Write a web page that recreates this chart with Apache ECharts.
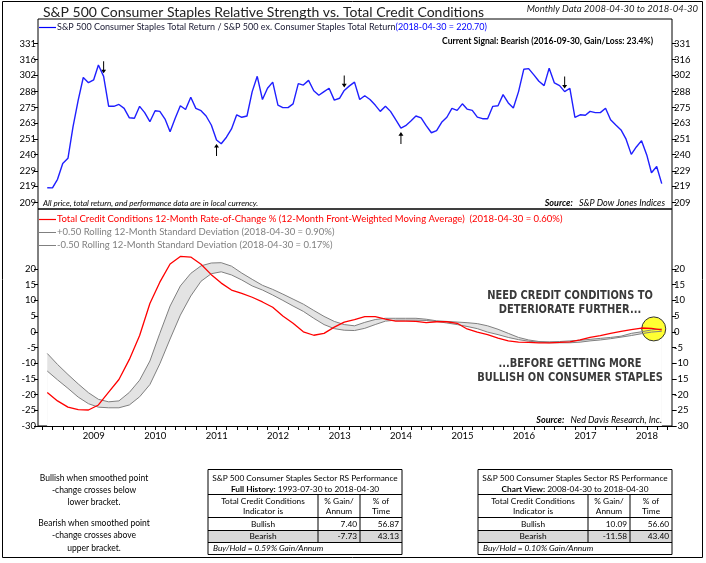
<!DOCTYPE html>
<html><head><meta charset="utf-8">
<script src="https://cdn.jsdelivr.net/npm/echarts@6/dist/echarts.min.js"></script>
<style>html,body{margin:0;padding:0;background:#fff}#c{width:706px;height:563px}</style>
</head><body><div id="c"></div>
<script>
// ---------------- DATA ----------------
// Relative strength ratio, monthly, 2008-04-30 .. 2018-04-30
const rsValues = [218.1,218,223.5,234,237.5,260,281,300,295.5,298,
311,301,276,276,277.5,274.4,267,266.6,276,271,
264,272.5,272,266,256.5,266.8,276.5,273.5,283.3,274.4,
272.5,268.4,261.5,250.4,247.7,252.4,258.5,269.3,267.4,268.4,
288,301,281.5,290.8,296,277,275,275,278,294.7,
293.5,297.5,288.7,285,288,290.8,281,282.5,289,292.8,
296,281.5,284.6,281.5,277,272,276,272,265.5,259.2,
261,264.6,268.4,267,261,255.7,257.3,263.5,267.4,274.4,
272.8,278,273.8,272.8,267.5,266.3,266.3,276,276.5,285.5,
278.7,274.6,288,307.2,307.8,302.3,296.8,293,308.2,295.3,
293,288,290.8,267.4,269.3,269,272,271,271,274.4,
265.5,261.5,257.8,251,240.2,245.4,249.9,239.8,227.8,231.9,
220.7];
const topTickLabels = [209,219,229,240,251,263,275,288,302,316,331];
const signalMonths = ['2009-03','2011-01','2013-02','2014-01','2016-09'];
const signalDirs = ['down','up','down','up','down'];

// Credit conditions, every 2 months, 2008-04-30 .. 2018-04-30
const creditValues = [-19.3,-22.0,-24.0,-24.8,-24.9,-23.3,-19.2,-15.2,-8.8,-1.2,
9.0,15.8,21.6,24.0,23.8,21.5,18.2,15.5,13.3,12.2,
11.0,9.5,7.8,5.0,2.7,0.0,-1.1,-0.5,1.5,3.1,
3.9,4.8,4.8,4.0,3.4,3.4,3.3,2.9,3.2,3.2,
2.7,0.9,-0.1,-0.9,-2.0,-2.9,-3.3,-3.4,-3.5,-3.5,
-3.4,-3.2,-2.6,-1.8,-1.2,-0.5,0.1,0.7,1.2,1.1,
0.6];
const upperBand = [-6.9,-10.4,-13.6,-16.6,-19.4,-21.5,-22.3,-22.0,-19.3,-15.4,
-9.3,-0.5,8.2,14.6,18.6,21.0,21.9,22.0,20.9,18.7,
16.7,14.8,13.5,12.0,10.4,8.8,6.8,4.9,3.3,2.3,
1.9,3.0,3.9,4.3,4.3,4.3,4.3,4.0,3.5,3.3,
3.1,2.9,2.6,1.9,0.8,-0.5,-1.8,-2.6,-3.1,-3.2,
-3.1,-2.9,-2.7,-2.4,-2.1,-1.8,-1.4,-0.5,0.0,0.6,
0.9];
const lowerBand = [-12.5,-15.3,-18.0,-20.8,-22.9,-24.0,-24.2,-24.2,-23.3,-20.7,
-16.8,-10.2,-2.3,5.3,11.4,16.1,18.5,19.1,18.1,16.5,
14.6,13.3,11.7,10.0,8.2,6.5,4.3,2.3,1.0,0.5,
0.4,1.1,2.3,3.4,3.7,3.7,3.7,3.6,3.3,2.8,
2.3,1.7,1.0,-0.1,-0.9,-1.8,-2.5,-3.0,-3.3,-3.5,
-3.5,-3.5,-3.3,-2.9,-2.6,-2.2,-1.7,-1.2,-0.6,-0.1,
0.17];
const bottomTickLabels = [-30,-25,-20,-15,-10,-5,0,5,10,15,20];
const yearLabels = [2009,2010,2011,2012,2013,2014,2015,2016,2017,2018];

const fullHistoryRows = [['Bullish','7.40','56.87'],['Bearish','-7.73','43.13']];
const chartViewRows = [['Bullish','10.09','56.60'],['Bearish','-11.58','43.40']];
const buyHoldFull = 'Buy/Hold = 0.59% Gain/Annum';
const buyHoldView = 'Buy/Hold = 0.10% Gain/Annum';

// ---------------- HELPERS ----------------
function monthEndTs(k) { // month end, k months after April 2008
  const t = 3 + k, y = 2008 + Math.floor(t / 12), m = t % 12;
  return new Date(y, m + 1, 0).getTime();
}
function monthKey(ts) { const d = new Date(ts); return d.getFullYear() + '-' + String(d.getMonth() + 1).padStart(2, '0'); }
const topDates = rsValues.map((_, i) => monthEndTs(i));
const creditDates = creditValues.map((_, i) => monthEndTs(i * 2));

const LB = 209, LT = 331;
const toU = v => Math.log(v / LB) / Math.log(LT / LB) * 10;
const fromU = u => String(Math.round(LB * Math.pow(LT / LB, u / 10)));
const topTickU = topTickLabels.map(toU);

const X_MIN = new Date(2008, 2, 6).getTime(), X_MAX = new Date(2018, 5, 30).getTime();
const tickTimes = [];
for (let y = 2008; y <= 2018; y++) for (let m = 1; m < 12; m += 2) {
  const t = new Date(y, m, 1).getTime();
  if (t >= X_MIN && t <= X_MAX) tickTimes.push(t);
}
const labelTimes = yearLabels.map(y => new Date(y, 1, 1).getTime());

const DOWN = 'path://M4,0 L6,0 L6,14 L10,14 L5,20 L0,14 L4,14 Z';
const UP = 'path://M5,0 L10,6 L6,6 L6,20 L4,20 L4,6 L0,6 Z';
const arrowPoints = signalMonths.map((s, i) => {
  const idx = topDates.findIndex(d => monthKey(d) === s);
  const dn = signalDirs[i] === 'down';
  return { coord: [topDates[idx], toU(rsValues[idx])], symbol: dn ? DOWN : UP,
           symbolSize: [5, 12], symbolOffset: [0, dn ? -9 : 10],
           itemStyle: { color: '#000' } };
});

const FF = 'Lato';
function txt(x, y, text, o, extra) {
  return Object.assign({ type: 'text', x: x, y: y, z: 50,
    style: Object.assign({ text: text, fill: '#000', fontSize: 9, fontFamily: FF,
      align: 'left', verticalAlign: 'middle' }, o || {}) }, extra || {});
}
function hline(x1, x2, y, color, w) {
  return { type: 'line', z: 50, shape: { x1: x1, y1: y, x2: x2, y2: y },
    style: { stroke: color || '#000', lineWidth: w || 1 } };
}
function vline(x, y1, y2) {
  return { type: 'line', z: 50, shape: { x1: x, y1: y1, x2: x, y2: y2 },
    style: { stroke: '#000', lineWidth: 1 } };
}
function table(x0, subBold, subRest, rows, buyHold) {
  const w = 194, c1 = 110, c2 = 152;
  const ys = [469.5, 494.5, 517.5, 530.5, 542.5, 554.5];
  const els = [];
  els.push({ type: 'rect', z: 49, shape: { x: x0, y: ys[3], width: w, height: ys[4] - ys[3] },
    style: { fill: '#d9d9d9' } });
  els.push({ type: 'rect', z: 50, shape: { x: x0, y: ys[0], width: w, height: ys[5] - ys[0] },
    style: { fill: 'none', stroke: '#000', lineWidth: 1 } });
  for (let i = 1; i <= 4; i++) els.push(hline(x0, x0 + w, ys[i]));
  els.push(vline(x0 + c1, ys[1], ys[4]));
  els.push(vline(x0 + c2, ys[1], ys[4]));
  const fs = 8.3;
  els.push(txt(x0 + w / 2, 478, 'S&P 500 Consumer Staples Sector RS Performance', { align: 'center', fontSize: fs }));
  els.push(txt(x0 + w / 2, 489, '{b|' + subBold + '} {n|' + subRest + '}', { align: 'center', fontSize: fs,
    rich: { b: { fontWeight: 'bold', fontSize: fs, fontFamily: FF, fill: '#000' }, n: { fontSize: fs, fontFamily: FF, fill: '#000' } } }));
  els.push(txt(x0 + c1 / 2, 501, 'Total Credit Conditions', { align: 'center', fontSize: fs }));
  els.push(txt(x0 + c1 / 2, 511, 'Indicator is', { align: 'center', fontSize: fs }));
  els.push(txt(x0 + (c1 + c2) / 2, 501, '% Gain/', { align: 'center', fontSize: fs }));
  els.push(txt(x0 + (c1 + c2) / 2, 511, 'Annum', { align: 'center', fontSize: fs }));
  els.push(txt(x0 + (c2 + w) / 2, 501, '% of', { align: 'center', fontSize: fs }));
  els.push(txt(x0 + (c2 + w) / 2, 511, 'Time', { align: 'center', fontSize: fs }));
  rows.forEach((r, i) => {
    const y = i === 0 ? 524 : 536.5;
    els.push(txt(x0 + c1 / 2, y, r[0], { align: 'center', fontSize: fs }));
    els.push(txt(x0 + c2 - 3, y, r[1], { align: 'right', fontSize: fs }));
    els.push(txt(x0 + w - 3, y, r[2], { align: 'right', fontSize: fs }));
  });
  els.push(txt(x0 + 5, 548.5, buyHold, { fontSize: fs, fontStyle: 'italic' }));
  return els;
}

const ANN = "'DejaVu Sans','Liberation Sans',sans-serif";
const annStyle = { align: 'center', fontSize: 13, fontWeight: 'bold', fontFamily: ANN, fill: '#3a3a3a' };
const annScale = { scaleX: 0.76 };
const graphics = [
  { type: 'rect', z: 60, shape: { x: 2.5, y: 1.5, width: 700, height: 556 }, style: { fill: 'none', stroke: '#000', lineWidth: 1 } },
  txt(43, 12, 'S&P 500 Consumer Staples Relative Strength vs. Total Credit Conditions', { fontSize: 14, fill: '#222' }),
  txt(698, 9, 'Monthly Data 2008-04-30 to 2018-04-30', { align: 'right', fontStyle: 'italic', fontSize: 9.5, fill: '#222' }),
  hline(39, 56, 27.5, '#0000ff', 1.2),
  txt(57, 27, '{a|S&P 500 Consumer Staples Total Return / S&P 500 ex. Consumer Staples Total Return}{b|(2018-04-30 = 220.70)}', {
    rich: { a: { fill: '#1a1a33', fontSize: 9, fontFamily: FF }, b: { fill: '#0000ff', fontSize: 9, fontFamily: FF } } }),
  txt(653, 41, 'Current Signal: Bearish (2016-09-30, Gain/Loss: 23.4%)', { align: 'right', fontWeight: 'bold', fontSize: 8.6 }),
  txt(43, 203.5, 'All price, total return, and performance data are in local currency.', { fontStyle: 'italic', fontSize: 8 }),
  txt(665, 203.5, '{b|Source:}{n|   S&P Dow Jones Indices}', { align: 'right',
    rich: { b: { fontWeight: 'bold', fontStyle: 'italic', fontSize: 9, fontFamily: FF, fill: '#000' }, n: { fontStyle: 'italic', fontSize: 9, fontFamily: FF, fill: '#000' } } }),
  hline(39, 56, 219.5, '#ff0000', 1.2),
  txt(57, 219, 'Total Credit Conditions 12-Month Rate-of-Change % (12-Month Front-Weighted Moving Average)  (2018-04-30 = 0.60%)', { fill: '#ff0000', fontSize: 9.5 }),
  hline(39, 56, 232.5, '#808080', 1),
  txt(57, 232, '+0.50 Rolling 12-Month Standard Deviation (2018-04-30 = 0.90%)', { fill: '#7f7f7f', fontSize: 9.5 }),
  hline(39, 56, 245.5, '#808080', 1),
  txt(57, 245, '-0.50 Rolling 12-Month Standard Deviation (2018-04-30 = 0.17%)', { fill: '#7f7f7f', fontSize: 9.5 }),
  txt(570, 296, 'NEED CREDIT CONDITIONS TO', annStyle, annScale),
  txt(570, 310, 'DETERIORATE FURTHER...', annStyle, annScale),
  txt(570, 364, '...BEFORE GETTING MORE', annStyle, annScale),
  txt(570, 378, 'BULLISH ON CONSUMER STAPLES', annStyle, annScale),
  txt(662, 420, '{b|Source:}{n|   Ned Davis Research, Inc.}', { align: 'right',
    rich: { b: { fontWeight: 'bold', fontStyle: 'italic', fontSize: 9, fontFamily: FF, fill: '#000' }, n: { fontStyle: 'italic', fontSize: 9, fontFamily: FF, fill: '#000' } } }),
  txt(94, 478, 'Bullish when smoothed point', { align: 'center', fontSize: 8.5 }),
  txt(94, 490, '-change crosses below', { align: 'center', fontSize: 8.5 }),
  txt(94, 502, 'lower bracket.', { align: 'center', fontSize: 8.5 }),
  txt(94, 523, 'Bearish when smoothed point', { align: 'center', fontSize: 8.5 }),
  txt(94, 535, '-change crosses above', { align: 'center', fontSize: 8.5 }),
  txt(94, 548, 'upper bracket.', { align: 'center', fontSize: 8.5 })
].concat(table(208, 'Full History:', '1993-07-30 to 2018-04-30', fullHistoryRows, buyHoldFull))
 .concat(table(478, 'Chart View:', '2008-04-30 to 2018-04-30', chartViewRows, buyHoldView));

// ---------------- AXES ----------------
const axisLab = { fontSize: 9.5, color: '#000', fontFamily: FF };
function yAxisTop(pos) {
  return { type: 'value', gridIndex: 0, position: pos, min: -0.41, max: 11.54,
    axisLine: { show: false, onZero: false }, splitLine: { show: false },
    axisTick: { show: true, customValues: topTickU, length: 4, lineStyle: { color: '#000' } },
    axisLabel: Object.assign({ customValues: topTickU, formatter: fromU, margin: 2 }, axisLab) };
}
function yAxisBottom(pos) {
  return { type: 'value', gridIndex: 1, position: pos, min: -30, max: 39.1,
    axisLine: { show: false, onZero: false }, splitLine: { show: false },
    axisTick: { show: true, customValues: bottomTickLabels, length: 4, lineStyle: { color: '#000' } },
    axisLabel: Object.assign({ customValues: bottomTickLabels, margin: 2 }, axisLab) };
}

const option = {
  animation: false,
  backgroundColor: '#fff',
  textStyle: { fontFamily: FF },
  grid: [
    { left: 38, top: 19, width: 634, height: 190, show: true, borderColor: '#000', borderWidth: 1, backgroundColor: 'transparent' },
    { left: 38, top: 209, width: 634, height: 217, show: true, borderColor: '#000', borderWidth: 1, backgroundColor: 'transparent' }
  ],
  xAxis: [
    { type: 'value', gridIndex: 0, min: X_MIN, max: X_MAX, axisLine: { show: false, onZero: false }, axisTick: { show: false },
      axisLabel: { show: false }, splitLine: { show: false } },
    { type: 'value', gridIndex: 1, min: X_MIN, max: X_MAX, z: 10, axisLine: { show: true, onZero: false, lineStyle: { color: '#000' } },
      axisTick: { show: true, customValues: tickTimes, length: 4, lineStyle: { color: '#000' } },
      axisLabel: Object.assign({ customValues: labelTimes, margin: 5,
        formatter: v => String(new Date(v).getFullYear()) }, axisLab),
      splitLine: { show: false } }
  ],
  yAxis: [yAxisTop('left'), yAxisTop('right'), yAxisBottom('left'), yAxisBottom('right')],
  graphic: graphics,
  series: [
    { name: 'RS', type: 'line', xAxisIndex: 0, yAxisIndex: 0, symbol: 'none', z: 5,
      data: topDates.map((d, i) => [d, toU(rsValues[i])]),
      lineStyle: { color: '#1f1fff', width: 1.4 },
      markPoint: { silent: true, label: { show: false }, data: arrowPoints } },
    // band fill: grey area under the upper bracket, masked in white under the lower bracket
    { name: 'bandUpperFill', type: 'line', xAxisIndex: 1, yAxisIndex: 2, symbol: 'none', z: 1, silent: true,
      data: creditDates.map((d, i) => [d, upperBand[i]]),
      lineStyle: { opacity: 0 }, areaStyle: { color: '#e3e3e3', opacity: 1, origin: 'start' } },
    { name: 'bandLowerMask', type: 'line', xAxisIndex: 1, yAxisIndex: 2, symbol: 'none', z: 2, silent: true,
      data: creditDates.map((d, i) => [d, lowerBand[i]]),
      lineStyle: { opacity: 0 }, areaStyle: { color: '#ffffff', opacity: 1, origin: 'start' } },
    { name: 'upper', type: 'line', xAxisIndex: 1, yAxisIndex: 2, symbol: 'none', z: 3,
      data: creditDates.map((d, i) => [d, upperBand[i]]),
      lineStyle: { color: '#808080', width: 1 } },
    { name: 'lower', type: 'line', xAxisIndex: 1, yAxisIndex: 2, symbol: 'none', z: 3,
      data: creditDates.map((d, i) => [d, lowerBand[i]]),
      lineStyle: { color: '#808080', width: 1 } },
    { name: 'credit', type: 'line', xAxisIndex: 1, yAxisIndex: 2, symbol: 'none', z: 4,
      data: creditDates.map((d, i) => [d, creditValues[i]]),
      lineStyle: { color: '#ff0000', width: 1.3 },
      markPoint: { z: 2.5, silent: true, label: { show: false }, data: [{
        coord: [creditDates[creditDates.length - 1], creditValues[creditValues.length - 1]],
        symbol: 'circle', symbolSize: 24, symbolOffset: [-8, -1],
        itemStyle: { color: '#ffff33', borderColor: '#333', borderWidth: 1 } }] } }
  ]
};
const chart = echarts.init(document.getElementById('c'), null, { renderer: 'canvas' });
chart.setOption(option);
</script></body></html>
